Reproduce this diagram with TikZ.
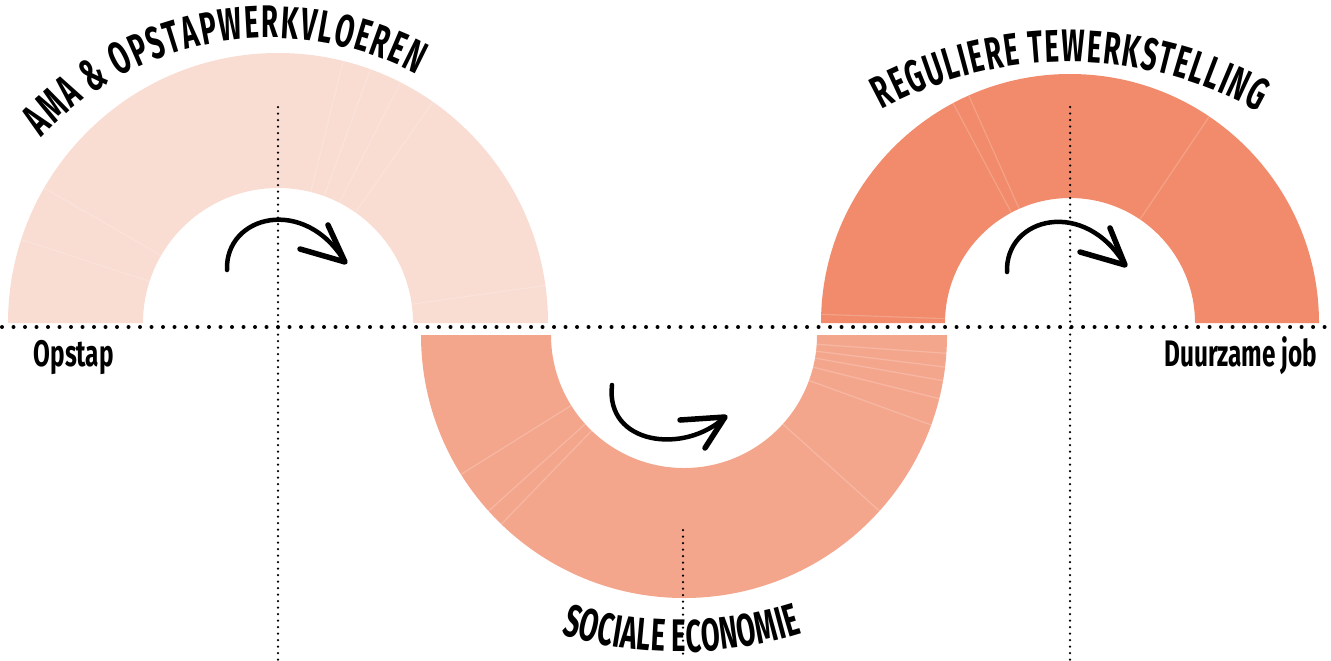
\documentclass[tikz,border=0pt]{standalone}
\usepackage{fontspec}
\newfontfamily\cf{Fira Sans}[FakeStretch=0.66]
\newfontfamily\tf{Fira Sans}[FakeStretch=0.6]
\usetikzlibrary{decorations.text}
\definecolor{arcA}{HTML}{F9DCD2}
\definecolor{arcB}{HTML}{F4A68D}
\definecolor{arcC}{HTML}{F18B6B}
\tikzset{
 hdots/.style={line width=0.04cm, line cap=round, dash pattern=on 0pt off 0.115cm},
 vdots/.style={line width=0.025cm, line cap=round, dash pattern=on 0pt off 0.065cm},
 sweep/.style={line width=0.045cm, line cap=round, black},
 tipstroke/.style={line width=0.055cm, line cap=round, line join=round, black},
 seam/.style={white, opacity=0.2, line width=0.012cm},
 endlabel/.style={font=\cf\bfseries\fontsize{10.5}{12}\selectfont, inner sep=0},
 arctext/.style={decorate, decoration={text along path, text align=fit to path, text={#1}}},
}
\begin{document}
\begin{tikzpicture}
\useasboundingbox (0,0) rectangle (13.31,6.60);
% arcs
\fill[arcA] (0.08,3.37) arc[start angle=180,end angle=0,radius=2.70] -- (4.13,3.37) arc[start angle=0,end angle=180,radius=1.35] -- cycle;
\fill[arcB] (4.21,3.25) arc[start angle=180,end angle=360,radius=2.63] -- (8.17,3.25) arc[start angle=360,end angle=180,radius=1.33] -- cycle;
\fill[arcC] (8.21,3.37) arc[start angle=180,end angle=0,radius=2.49] -- (11.95,3.37) arc[start angle=0,end angle=180,radius=1.25] -- cycle;
% faint seams
\foreach \a in {8,55,63,70,76,150,162} \draw[seam] (2.78,3.37) ++(\a:1.35) -- ++(\a:1.35);
\foreach \a in {212,222,226,318,340,346,350,353,356} \draw[seam] (6.84,3.25) ++(\a:1.33) -- ++(\a:1.30);
\foreach \a in {56,114,118,178} \draw[seam] (10.70,3.37) ++(\a:1.25) -- ++(\a:1.24);
% dotted guides
\draw[hdots] (0.02,3.33) -- (13.31,3.33);
\coordinate (v1t) at (2.78,5.53); \coordinate (v1b) at (2.78,0);
\coordinate (v2t) at (6.83,1.30); \coordinate (v2b) at (6.83,0);
\coordinate (v3t) at (10.70,5.53); \coordinate (v3b) at (10.70,0);
\draw[vdots] (v1t) -- (v1b);
\draw[vdots] (v2t) -- (v2b);
\draw[vdots] (v3t) -- (v3b);
% arrows
\coordinate (t1) at (3.45,3.98);
\draw[sweep] (2.27,3.90) .. controls (2.25,4.45) and (3.05,4.65) .. (t1);
\draw[tipstroke] (3.00,4.11) -- (t1) -- (3.28,4.35);
\coordinate (t2) at (7.25,2.43);
\draw[sweep] (6.12,2.75) .. controls (6.05,2.15) and (6.85,2.05) .. (t2);
\draw[tipstroke] (6.80,2.40) -- (t2) -- (7.05,2.12);
\coordinate (t3) at (11.25,3.95);
\draw[sweep] (10.07,3.88) .. controls (10.05,4.43) and (10.85,4.63) .. (t3);
\draw[tipstroke] (10.80,4.08) -- (t3) -- (11.10,4.32);
% curved titles
\path[arctext={|\tf\bfseries\fontsize{13}{15}\selectfont|AMA {\&} OPSTAPWERKVLOEREN}] (2.70,3.10) ++(137:3.12) arc[start angle=137,end angle=62,radius=3.12];
\path[arctext={|\tf\bfseries\fontsize{13}{15}\selectfont|REGULIERE TEWERKSTELLING}] (10.68,2.08) ++(118.5:3.90) arc[start angle=118.5,end angle=60.8,radius=3.90];
\path[arctext={|\tf\bfseries\fontsize{13}{15}\selectfont|SOCIALE ECONOMIE}] (6.80,4.14) ++(253:4.06) arc[start angle=253,end angle=287.5,radius=4.06];
% end labels
\node[endlabel, anchor=base west] (opstap) at (0.33,2.94) {Opstap};
\node[endlabel, anchor=base east] (job) at (13.18,2.94) {Duurzame job};
\end{tikzpicture}
\end{document}
